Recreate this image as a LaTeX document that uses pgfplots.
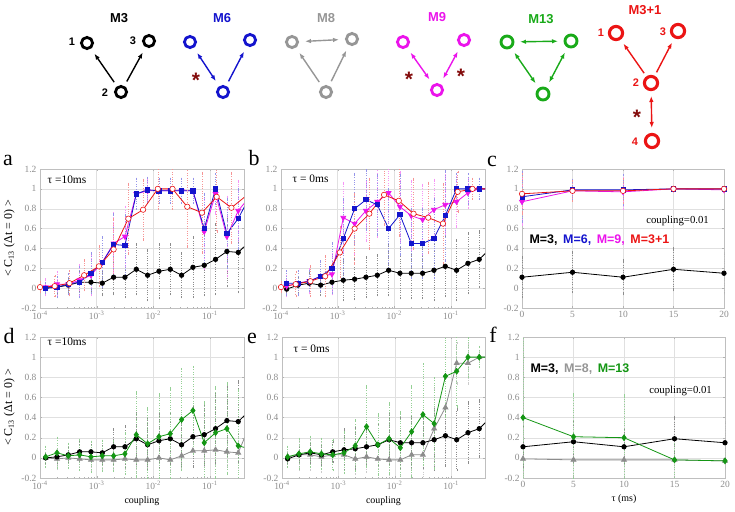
\documentclass[border=0pt]{standalone}
\usepackage{pgfplots}
\pgfplotsset{compat=1.18}
\usepackage{pgfplotstable}
\usepackage{fontspec}
\setmainfont{Liberation Serif}
\newfontfamily\sansb{Liberation Sans}
\usetikzlibrary{arrows.meta}

\definecolor{cblue}{RGB}{20,20,205}
\definecolor{cmag}{RGB}{235,20,235}
\definecolor{cred}{RGB}{235,20,20}
\definecolor{cgray}{RGB}{140,140,140}
\definecolor{cgreen}{RGB}{20,150,20}
\definecolor{mgreen}{RGB}{25,170,25}
\definecolor{mgray}{RGB}{150,150,150}
\definecolor{cstar}{RGB}{130,10,10}

% tau = 10 ms (panels a, d)
\pgfplotstableread{
x blk blke blu blue mag mage grn grne gry grye
1.2589e-4 0.00 0.05 0.00 0.05 0.01 0.08 0.01 0.10 0.00 0.05
1.9953e-4 0.01 0.06 0.01 0.10 0.04 0.12 0.05 0.15 -0.01 0.10
3.1623e-4 0.03 0.07 0.04 0.10 0.04 0.10 0.02 0.12 0.00 0.10
5.0119e-4 0.06 0.10 0.06 0.15 0.08 0.15 0.03 0.15 -0.01 0.08
7.9433e-4 0.06 0.10 0.15 0.20 0.13 0.20 0.01 0.15 -0.02 0.10
1.2589e-3 0.05 0.12 0.26 0.25 0.26 0.25 0.02 0.15 -0.02 0.10
1.9953e-3 0.11 0.17 0.44 0.30 0.45 0.30 0.02 0.15 -0.02 0.10
3.1623e-3 0.11 0.20 0.43 0.30 0.52 0.30 0.04 0.20 -0.01 0.10
5.0119e-3 0.19 0.25 0.95 0.15 0.95 0.15 0.23 0.42 -0.02 0.12
7.9433e-3 0.13 0.25 0.99 0.12 0.98 0.12 0.14 0.35 -0.02 0.10
1.2589e-2 0.17 0.27 0.98 0.12 0.98 0.12 0.21 0.42 0.00 0.10
1.9953e-2 0.19 0.25 0.98 0.12 0.98 0.12 0.24 0.45 -0.02 0.12
3.1623e-2 0.13 0.22 0.98 0.12 0.98 0.12 0.38 0.50 0.02 0.12
5.0119e-2 0.21 0.30 0.98 0.12 0.98 0.12 0.47 0.43 0.07 0.15
7.9433e-2 0.23 0.30 0.60 0.35 0.57 0.38 0.15 0.40 0.07 0.15
0.12589 0.29 0.35 1.00 0.15 0.95 0.20 0.25 0.45 0.08 0.15
0.19953 0.37 0.35 0.55 0.35 0.52 0.40 0.29 0.45 0.06 0.15
0.31623 0.36 0.40 0.70 0.30 0.78 0.30 0.12 0.55 0.05 0.15
0.50119 0.47 0.40 0.92 0.30 0.92 0.30 0.09 0.50 0.32 0.20
}\tTen

% tau = 0 ms (panels b, e)
\pgfplotstableread{
x blk blke blu blue mag mage grn grne gry grye
1.2589e-4 -0.01 0.05 0.05 0.12 0.02 0.10 0.01 0.10 0.01 0.05
1.9953e-4 0.03 0.08 0.05 0.12 0.05 0.12 0.04 0.15 0.03 0.15
3.1623e-4 0.05 0.10 0.07 0.10 0.07 0.12 0.06 0.15 0.03 0.15
5.0119e-4 0.03 0.10 0.12 0.15 0.12 0.15 0.04 0.15 0.01 0.15
7.9433e-4 0.06 0.10 0.20 0.25 0.14 0.20 0.03 0.15 0.03 0.15
1.2589e-3 0.08 0.20 0.50 0.40 0.71 0.35 0.05 0.20 0.03 0.15
1.9953e-3 0.09 0.20 0.80 0.35 0.65 0.30 0.12 0.25 -0.01 0.15
3.1623e-3 0.11 0.20 0.89 0.30 0.78 0.30 0.31 0.40 0.01 0.15
5.0119e-3 0.13 0.20 0.84 0.30 0.87 0.35 0.13 0.30 -0.01 0.15
7.9433e-3 0.18 0.25 0.60 0.40 0.96 0.30 0.19 0.35 -0.02 0.15
1.2589e-2 0.15 0.25 0.74 0.40 0.82 0.35 0.10 0.35 -0.02 0.15
1.9953e-2 0.15 0.25 0.45 0.35 0.73 0.35 0.26 0.45 0.03 0.20
3.1623e-2 0.15 0.25 0.45 0.35 0.69 0.35 0.43 0.50 0.03 0.25
5.0119e-2 0.18 0.30 0.50 0.40 0.79 0.30 0.34 0.45 0.29 0.40
7.9433e-2 0.22 0.30 0.73 0.45 0.84 0.30 0.81 0.40 0.50 0.50
0.12589 0.18 0.30 1.00 0.15 0.87 0.25 0.86 0.35 0.94 0.20
0.19953 0.25 0.30 1.00 0.15 0.96 0.15 1.00 0.20 0.94 0.20
0.31623 0.29 0.28 1.00 0.10 1.00 0.10 1.00 0.10 1.00 0.05
0.50119 0.40 0.30 1.00 0.10 1.00 0.10 1.00 0.05 1.00 0.05
}\tZero

% M=3+1 (panels a, b)
\pgfplotstableread{
x a ae b be
1.0e-4 0.01 0.05 0.01 0.05
1.8197e-4 0.02 0.10 0.04 0.12
3.3113e-4 0.05 0.12 0.07 0.15
6.0256e-4 0.13 0.15 0.12 0.20
1.0965e-3 0.22 0.20 0.36 0.25
1.9953e-3 0.39 0.30 0.60 0.35
3.6308e-3 0.70 0.35 0.75 0.35
6.6069e-3 0.79 0.30 0.94 0.30
1.2023e-2 1.00 0.20 0.88 0.35
2.1878e-2 1.00 0.20 0.75 0.35
3.9811e-2 0.82 0.40 0.71 0.35
7.2444e-2 0.76 0.40 0.65 0.40
0.13183 0.92 0.35 0.97 0.20
0.23988 0.81 0.35 1.00 0.10
0.43652 0.93 0.35 1.00 0.05
}\tRed

% coupling = 0.01 versus tau (panels c, f)
\pgfplotstableread{
x blk blke blu blue mag mage red rede gry grye grn grne
0 0.11 0.20 0.92 0.25 0.87 0.23 0.95 0.20 -0.01 0.05 0.40 0.90
5 0.16 0.20 0.99 0.10 0.98 0.10 0.98 0.10 -0.02 0.05 0.21 0.42
10 0.11 0.17 0.99 0.15 0.97 0.17 0.98 0.12 -0.02 0.05 0.20 0.42
15 0.19 0.21 1.00 0.02 1.00 0.02 1.00 0.02 -0.02 0.05 -0.02 0.20
20 0.15 0.20 1.00 0.02 0.99 0.02 1.00 0.02 -0.03 0.05 -0.03 0.07
}\tTau

\pgfplotsset{
 ser/.style={color=#1, line width=0.8bp, mark options={solid},
   error bars/y dir=both, error bars/y explicit,
   error bars/error bar style={#1!45, dotted, line width=0.45bp},
   error bars/error mark options={#1!45, solid, line width=0.4bp, mark size=1.2bp}},
 sblk/.style={ser=black, mark=*, mark size=2.2bp},
 sblu/.style={ser=cblue, mark=square*, mark size=2.1bp},
 smag/.style={ser=cmag, mark=triangle*, mark size=2.8bp, mark options={rotate=180}},
 sred/.style={ser=cred, mark=*, mark size=2.7bp, mark options={fill=white, draw=cred, line width=0.6bp}},
 sgry/.style={ser=cgray, mark=triangle*, mark size=2.8bp},
 sgrn/.style={ser=cgreen, mark=diamond*, mark size=2.8bp},
}

\newcommand{\logticks}{10\textsuperscript{-4},10\textsuperscript{-3},10\textsuperscript{-2},10\textsuperscript{-1}}

\tikzset{
 arr/.style={line width=1.4bp, -{Latex[length=6bp,width=4.5bp]}, shorten <=12bp, shorten >=13bp},
 darr/.style={line width=1.4bp, {Latex[length=6bp,width=4.5bp]}-{Latex[length=6bp,width=4.5bp]}, shorten <=13bp, shorten >=13bp},
 mtitle/.style={font=\sansb\bfseries\fontsize{13}{13}\selectfont},
 mnum/.style={font=\sansb\bfseries\fontsize{11}{11}\selectfont},
 mstar/.style={font=\sansb\bfseries\fontsize{21}{21}\selectfont, text=cstar, yshift=-3.5bp},
 plet/.style={font=\fontsize{22}{22}\selectfont, anchor=base},
}

\begin{document}
\begin{tikzpicture}
\path[use as bounding box] (0,0) rectangle (735bp,-512bp);

% ---------------- motifs and panel letters ----------------
\begin{axis}[at={(0bp,0bp)}, anchor=north west, scale only axis, width=735bp, height=512bp,
  xmin=0, xmax=735, ymin=0, ymax=512, y dir=reverse, hide axis, clip=false]
 % M3
 \node[mtitle] at (axis cs:119,18) {M3};
 \addplot[only marks, mark=o, mark size=5.6bp, mark options={line width=2.8bp, draw=black}] coordinates {(87,43) (149,41) (121,92)};
 \draw[arr, black] (axis cs:121,92) -- (axis cs:87,43);
 \draw[arr, black] (axis cs:121,92) -- (axis cs:149,41);
 \node[mnum] at (axis cs:72,42) {1};
 \node[mnum] at (axis cs:133,41) {3};
 \node[mnum] at (axis cs:105,93) {2};
 % M6
 \node[mtitle, text=cblue] at (axis cs:222,18) {M6};
 \addplot[only marks, mark=o, mark size=5.6bp, mark options={line width=2.8bp, draw=cblue}] coordinates {(190,42) (250,40) (223,92)};
 \draw[darr, cblue] (axis cs:223,92) -- (axis cs:190,42);
 \draw[arr, cblue] (axis cs:223,92) -- (axis cs:250,40);
 \node[mstar] at (axis cs:196,77) {*};
 % M8
 \node[mtitle, text=mgray] at (axis cs:326,18) {M8};
 \addplot[only marks, mark=o, mark size=5.6bp, mark options={line width=2.8bp, draw=mgray}] coordinates {(292,42) (352,39) (326,92)};
 \draw[darr, mgray] (axis cs:292,42) -- (axis cs:352,39);
 \draw[arr, mgray] (axis cs:326,92) -- (axis cs:292,42);
 \draw[arr, mgray] (axis cs:326,92) -- (axis cs:352,39);
 % M9
 \node[mtitle, text=cmag] at (axis cs:437,17) {M9};
 \addplot[only marks, mark=o, mark size=5.6bp, mark options={line width=2.8bp, draw=cmag}] coordinates {(403,42) (464,40) (437,90)};
 \draw[darr, cmag] (axis cs:437,90) -- (axis cs:403,42);
 \draw[darr, cmag] (axis cs:437,90) -- (axis cs:464,40);
 \node[mstar] at (axis cs:409,76) {*};
 \node[mstar] at (axis cs:461,73) {*};
 % M13
 \node[mtitle, text=mgreen] at (axis cs:541,19) {M13};
 \addplot[only marks, mark=o, mark size=6bp, mark options={line width=2.9bp, draw=mgreen}] coordinates {(507,42) (571,41) (543,94)};
 \draw[darr, mgreen] (axis cs:507,42) -- (axis cs:571,41);
 \draw[darr, mgreen] (axis cs:543,94) -- (axis cs:507,42);
 \draw[darr, mgreen] (axis cs:543,94) -- (axis cs:571,41);
 % M3+1
 \node[mtitle, text=cred] at (axis cs:645,10) {M3+1};
 \addplot[only marks, mark=o, mark size=6.6bp, mark options={line width=3.1bp, draw=cred}] coordinates {(616,33) (678,31) (651,83) (652,141)};
 \draw[arr, cred] (axis cs:651,83) -- (axis cs:616,33);
 \draw[arr, cred] (axis cs:651,83) -- (axis cs:678,31);
 \draw[darr, cred] (axis cs:651,83) -- (axis cs:652,141);
 \node[mnum, text=cred] at (axis cs:601,33) {1};
 \node[mnum, text=cred] at (axis cs:663,32) {3};
 \node[mnum, text=cred] at (axis cs:636,83) {2};
 \node[mnum, text=cred] at (axis cs:635,142) {4};
 \node[mstar] at (axis cs:637,114) {*};
 % panel letters
 \node[plet] at (axis cs:8,165) {a};
 \node[plet] at (axis cs:254,165) {b};
 \node[plet] at (axis cs:492,166) {c};
 \node[plet] at (axis cs:9,343) {d};
 \node[plet] at (axis cs:252,343) {e};
 \node[plet] at (axis cs:493,342) {f};
\end{axis}

\pgfplotsset{every axis/.append style={scale only axis, ymin=-0.2, ymax=1.2,
   ytick={-0.2,0,0.2,0.4,0.6,0.8,1,1.2}, yticklabels={-0.2,0,0.2,0.4,0.6,0.8,1,1.2},
   axis line style={black!25}, grid=major, grid style={black!12, line width=0.4bp},
   tick style={black!30}, major tick length=2bp, minor tick length=1.2bp,
   tick label style={font=\fontsize{9.5}{9.5}\selectfont, text=black!45},
   label style={font=\fontsize{10}{10}\selectfont}}}

% ---------------- panel a ----------------
\begin{axis}[xmode=log, xmin=1e-4, xmax=0.4, xtick={1e-4,1e-3,1e-2,1e-1}, xticklabels/.expand once={\logticks},
  at={(40bp,-308bp)}, anchor=south west, width=204bp, height=139bp,
  ylabel={< C\textsubscript{13} (Δt = 0) >}, ylabel style={font=\fontsize{12}{12}\selectfont}]
 \addplot[sblk] table[x=x, y=blk, y error=blke] {\tTen};
 \addplot[smag] table[x=x, y=mag, y error=mage] {\tTen};
 \addplot[sblu] table[x=x, y=blu, y error=blue] {\tTen};
 \addplot[sred] table[x=x, y=a, y error=ae] {\tRed};
 \node[anchor=west, font=\fontsize{11.5}{11.5}\selectfont] at (rel axis cs:0.02,0.92) {τ =10ms};
\end{axis}

% ---------------- panel b ----------------
\begin{axis}[xmode=log, xmin=1e-4, xmax=0.4, xtick={1e-4,1e-3,1e-2,1e-1}, xticklabels/.expand once={\logticks},
  at={(281bp,-308bp)}, anchor=south west, width=204bp, height=139bp]
 \addplot[sblk] table[x=x, y=blk, y error=blke] {\tZero};
 \addplot[smag] table[x=x, y=mag, y error=mage] {\tZero};
 \addplot[sblu] table[x=x, y=blu, y error=blue] {\tZero};
 \addplot[sred] table[x=x, y=b, y error=be] {\tRed};
 \node[anchor=west, font=\fontsize{11.5}{11.5}\selectfont] at (rel axis cs:0.04,0.93) {τ = 0ms};
\end{axis}

% ---------------- panel c ----------------
\begin{axis}[xmin=0, xmax=20, xtick={0,5,10,15,20}, xticklabels={0,5,10,15,20},
  at={(522bp,-308bp)}, anchor=south west, width=202bp, height=139bp]
 \addplot[sblk] table[x=x, y=blk, y error=blke] {\tTau};
 \addplot[smag] table[x=x, y=mag, y error=mage] {\tTau};
 \addplot[sblu] table[x=x, y=blu, y error=blue] {\tTau};
 \addplot[sred] table[x=x, y=red, y error=rede] {\tTau};
 \node[font=\fontsize{10.8}{10.8}\selectfont] at (rel axis cs:0.77,0.63) {coupling=0.01};
 \node[anchor=west, font=\sansb\bfseries\fontsize{12.5}{12.5}\selectfont] at (rel axis cs:0.02,0.49)
   {M=3,\hspace{0.45em}\textcolor{cblue}{M=6,}\hspace{0.45em}\textcolor{cmag}{M=9,}\hspace{0.45em}\textcolor{cred}{M=3+1}};
\end{axis}

% ---------------- panel d ----------------
\begin{axis}[xmode=log, xmin=1e-4, xmax=0.4, xtick={1e-4,1e-3,1e-2,1e-1}, xticklabels/.expand once={\logticks},
  at={(40bp,-478bp)}, anchor=south west, width=204bp, height=141bp,
  ylabel={< C\textsubscript{13} (Δt = 0) >}, ylabel style={font=\fontsize{12}{12}\selectfont}, xlabel={coupling}]
 \addplot[sgry] table[x=x, y=gry, y error=grye] {\tTen};
 \addplot[sblk] table[x=x, y=blk, y error=blke] {\tTen};
 \addplot[sgrn] table[x=x, y=grn, y error=grne] {\tTen};
 \node[anchor=west, font=\fontsize{11.5}{11.5}\selectfont] at (rel axis cs:0.02,0.965) {τ =10ms};
\end{axis}

% ---------------- panel e ----------------
\begin{axis}[xmode=log, xmin=1e-4, xmax=0.4, xtick={1e-4,1e-3,1e-2,1e-1}, xticklabels/.expand once={\logticks},
  at={(282bp,-478bp)}, anchor=south west, width=203bp, height=141bp, xlabel={coupling}]
 \addplot[sgry] table[x=x, y=gry, y error=grye] {\tZero};
 \addplot[sblk] table[x=x, y=blk, y error=blke] {\tZero};
 \addplot[sgrn] table[x=x, y=grn, y error=grne] {\tZero};
 \node[anchor=west, font=\fontsize{11.5}{11.5}\selectfont] at (rel axis cs:0.04,0.92) {τ = 0ms};
\end{axis}

% ---------------- panel f ----------------
\begin{axis}[xmin=0, xmax=20, xtick={0,5,10,15,20}, xticklabels={0,5,10,15,20},
  at={(523bp,-478bp)}, anchor=south west, width=202bp, height=141bp, xlabel={τ (ms)}]
 \addplot[sgry] table[x=x, y=gry, y error=grye] {\tTau};
 \addplot[sblk] table[x=x, y=blk, y error=blke] {\tTau};
 \addplot[sgrn] table[x=x, y=grn, y error=grne] {\tTau};
 \node[font=\fontsize{10.8}{10.8}\selectfont] at (rel axis cs:0.78,0.62) {coupling=0.01};
 \node[anchor=west, font=\sansb\bfseries\fontsize{12.5}{12.5}\selectfont] at (rel axis cs:0.02,0.77)
   {M=3,\hspace{0.45em}\textcolor{mgray}{M=8,}\hspace{0.45em}\textcolor{cgreen}{M=13}};
\end{axis}
\end{tikzpicture}
\end{document}
